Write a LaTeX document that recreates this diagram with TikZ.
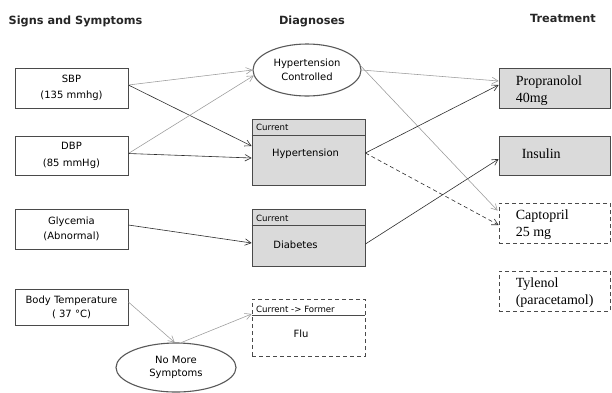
\documentclass[tikz,border=0pt]{standalone}
\usepackage{fontspec}
\setmainfont{DejaVu Sans}
\newfontfamily\drugfont{Liberation Serif}
\usetikzlibrary{shapes.geometric,arrows.meta,calc}

\definecolor{boxfill}{HTML}{DADADA}
\definecolor{boxline}{HTML}{4A4A4A}
\definecolor{lightlink}{HTML}{9A9A9A}
\definecolor{darklink}{HTML}{2E2E2E}

\tikzset{
  heading/.style={font=\fontsize{11.3}{13}\selectfont\bfseries, text=black!85},
  signbox/.style={draw=boxline, line width=0.8pt, fill=white, minimum width=113pt,
    inner sep=0pt, align=center, font=\fontsize{10}{16.5}\selectfont},
  statebox/.style={draw=boxline, line width=0.8pt, fill=boxfill, minimum width=113pt, inner sep=0pt},
  pastbox/.style={statebox, fill=white, dash pattern=on 4pt off 3pt},
  drugbox/.style={draw=boxline, line width=0.8pt, fill=boxfill, minimum width=111pt, inner sep=0pt},
  olddrug/.style={drugbox, fill=white, dash pattern=on 4pt off 3pt},
  oval/.style={ellipse, draw=black!65, line width=1.1pt, fill=white, inner sep=0pt,
    align=center, font=\fontsize{10}{13.5}\selectfont},
  tag/.style={anchor=west, inner sep=0pt, font=\fontsize{8.6}{10}\selectfont},
  mainlabel/.style={inner sep=0pt, font=\fontsize{10}{12}\selectfont},
  druglabel/.style={anchor=west, inner sep=0pt, align=left, font=\drugfont\fontsize{14}{17}\selectfont},
  tip/.style={-{Straight Barb[length=6pt,width=6.5pt]}},
  faint/.style={tip, draw=lightlink, line width=0.55pt},
  firm/.style={tip, draw=darklink, line width=0.6pt},
  firmdash/.style={firm, dash pattern=on 4pt off 3pt}
}

\begin{document}
\begin{tikzpicture}[x=1pt,y=-1pt]
\useasboundingbox[fill=white] (0,0) rectangle (612,392);

% column headings
\node[heading] (h1) at (75.5,21) {Signs and Symptoms};
\node[heading] (h2) at (312,21) {Diagnoses};
\node[heading] (h3) at (563,18) {Treatment};

% signs and symptoms
\node[signbox, minimum height=40pt] (sbp) at (71.5,88) {SBP\\(135 mmhg)};
\node[signbox, minimum height=39pt] (dbp) at (71.5,155.5) {DBP\\(85 mmHg)};
\node[signbox, minimum height=40pt, font=\fontsize{10}{15}\selectfont] (gly) at (71.5,229) {Glycemia\\(Abnormal)};
\node[signbox, minimum height=36pt, font=\fontsize{10}{14}\selectfont] (bt) at (71.5,307) {Body Temperature\\( 37 °C)};

% diagnoses
\node[oval, minimum width=108pt, minimum height=52pt] (hc) at (307,70) {Hypertension\\Controlled};

\node[statebox, minimum height=66pt] (ht) at (308.5,152) {};
\draw[boxline, line width=0.8pt] ($(ht.north west)+(0,17)$) -- ($(ht.north east)+(0,17)$);
\node[tag] (htt) at (256,127.5) {Current};
\node[mainlabel] (htl) at (305.5,154) {Hypertension};

\node[statebox, minimum height=57pt] (dia) at (308.5,237.5) {};
\draw[boxline, line width=0.8pt] ($(dia.north west)+(0,17)$) -- ($(dia.north east)+(0,17)$);
\node[tag] (diat) at (256,218) {Current};
\node[mainlabel] (dial) at (295.5,245) {Diabetes};

\node[pastbox, minimum height=57pt] (flu) at (308.5,327.5) {};
\draw[boxline, line width=0.8pt] ($(flu.north west)+(0,17)$) -- ($(flu.north east)+(0,17)$);
\node[tag] (flut) at (256,309) {Current -> Former};
\node[mainlabel] (flul) at (301,334) {Flu};

\node[oval, minimum width=120pt, minimum height=49pt] (nms) at (176,367.5) {No More\\Symptoms};

% treatments
\node[drugbox, minimum height=40pt] (prop) at (554.5,88) {};
\node[druglabel] (propl) at ($(prop.west)+(17,2.5)$) {Propranolol\\40mg};
\node[drugbox, minimum height=39pt] (ins) at (554.5,155.5) {};
\node[druglabel] (insl) at ($(ins.west)+(23,-1.5)$) {Insulin};
\node[olddrug, minimum height=40pt] (cap) at (554.5,223) {};
\node[druglabel] (capl) at ($(cap.west)+(17,2)$) {Captopril\\25 mg};
\node[olddrug, minimum height=40pt] (tyl) at (554.5,291) {};
\node[druglabel] (tyll) at ($(tyl.west)+(17,2)$) {Tylenol\\(paracetamol)};

% links from signs to diagnoses
\draw[faint] ($(sbp.east)+(0,-3)$) -- (hc.west);
\draw[firm] ($(sbp.east)+(0,-3)$) -- ($(ht.west)+(0,-6)$);
\draw[faint] ($(dbp.east)+(0,-2)$) -- (hc.186);
\draw[firm] ($(dbp.east)+(0,-2)$) -- ($(ht.west)+(0,6)$);
\draw[firm] ($(gly.east)+(0,-4)$) -- ($(dia.west)+(0,5.5)$);
\draw[faint] ($(bt.east)+(0,-5)$) -- (nms.93);
\draw[faint] (nms.78) -- ($(flu.west)+(0,-13.5)$);

% links from diagnoses to treatments
\draw[faint] (hc.east) -- ($(prop.west)+(0,-7)$);
\draw[faint] (hc.4) -- ($(cap.north west)+(-1,8)$);
\draw[firm] ($(ht.east)+(0,1)$) -- ($(prop.west)+(0,-3)$);
\draw[firmdash] ($(ht.east)+(0,1)$) -- ($(cap.west)+(0,2)$);
\draw[firm] ($(dia.east)+(0,6.5)$) -- ($(ins.west)+(0,3.5)$);
\end{tikzpicture}
\end{document}
